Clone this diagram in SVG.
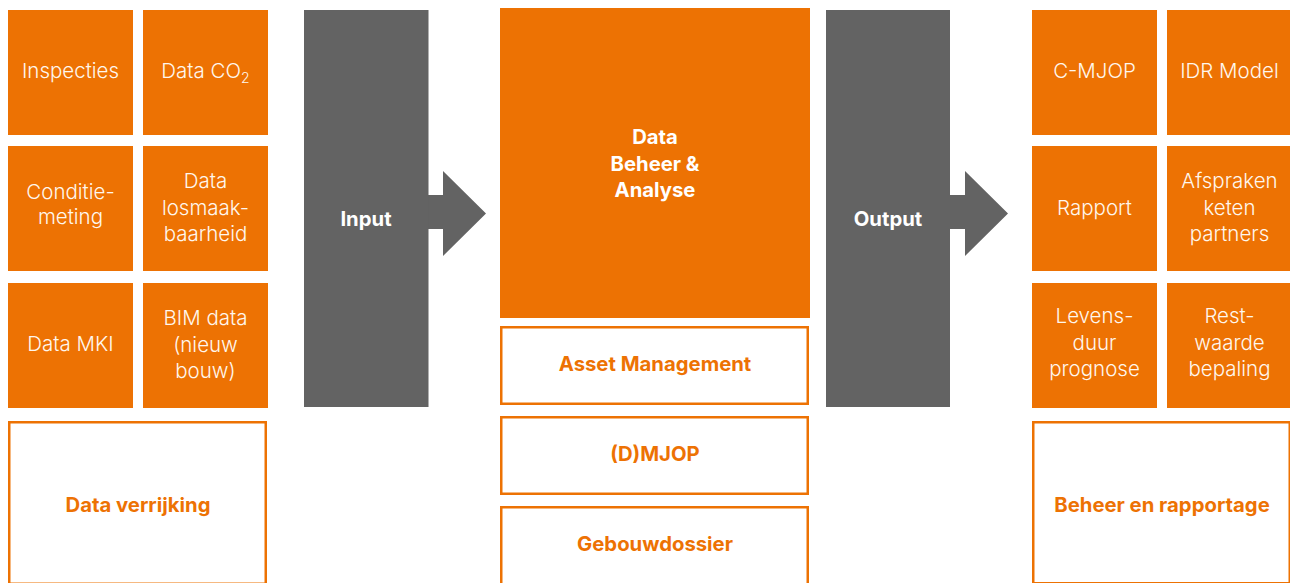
<svg xmlns="http://www.w3.org/2000/svg" width="1290" height="583" viewBox="0 0 1290 583">
<style>
.tile{fill:#ED7203}
.bar{fill:#636363}
.out{fill:#ffffff;stroke:#ED7203;stroke-width:2.5}
.lt{font-family:Inter,Lato,sans-serif;font-weight:300;font-size:20.5px;fill:#FFF7EE;text-anchor:middle}
.bw{font-family:Inter,Lato,sans-serif;font-weight:700;font-size:20.3px;fill:#FFFFFF;text-anchor:middle}
.bo{font-family:Inter,Lato,sans-serif;font-weight:700;font-size:20.3px;fill:#ED7203;text-anchor:middle}
</style>
<rect width="1290" height="583" fill="#ffffff"/>
<g id="connectors">
<path class="bar" d="M428,195 H443 V171 L486,213.5 L443,256 V229 H428 Z"/>
<path class="bar" d="M950,195 H965 V171 L1008,213.5 L965,256 V229 H950 Z"/>
</g>
<g id="inspecties"><rect class="tile" x="8" y="10" width="125" height="125"/><text class="lt" x="70.5" y="78">Inspecties</text></g>
<g id="data-co2"><rect class="tile" x="143" y="10" width="125" height="125"/><text class="lt" x="205.5" y="78">Data CO<tspan font-size="14" dy="5">2</tspan></text></g>
<g id="conditiemeting"><rect class="tile" x="8" y="146" width="125" height="125"/><text class="lt" x="70.5" y="199">Conditie-<tspan x="70.5" dy="25">meting</tspan></text></g>
<g id="data-losmaakbaarheid"><rect class="tile" x="143" y="146" width="125" height="125"/><text class="lt" x="205.5" y="188">Data<tspan x="205.5" dy="26.5">losmaak-</tspan><tspan x="205.5" dy="26.5">baarheid</tspan></text></g>
<g id="data-mki"><rect class="tile" x="8" y="283" width="125" height="125"/><text class="lt" x="70.5" y="351">Data MKI</text></g>
<g id="bim-data"><rect class="tile" x="143" y="283" width="125" height="125"/><text class="lt" x="205.5" y="325">BIM data<tspan x="205.5" dy="26.5">(nieuw</tspan><tspan x="205.5" dy="26.5">bouw)</tspan></text></g>
<g id="data-verrijking"><rect class="out" x="9.25" y="422.25" width="256.5" height="161.5"/><text class="bo" x="138" y="512">Data verrijking</text></g>
<g id="input"><rect class="bar" x="304" y="10" width="124.5" height="397"/><text class="bw" x="366" y="226">Input</text></g>
<g id="data-beheer-analyse"><rect class="tile" x="500" y="8" width="310" height="310"/><text class="bw" x="655" y="144">Data<tspan x="655" dy="26.5">Beheer &amp;</tspan><tspan x="655" dy="26.5">Analyse</tspan></text></g>
<g id="asset-management"><rect class="out" x="501.25" y="327.25" width="306.5" height="76.5"/><text class="bo" x="655" y="371">Asset Management</text></g>
<g id="dmjop"><rect class="out" x="501.25" y="417.25" width="306.5" height="76.5"/><text class="bo" x="655" y="461">(D)MJOP</text></g>
<g id="gebouwdossier"><rect class="out" x="501.25" y="507.25" width="306.5" height="80"/><text class="bo" x="655" y="551">Gebouwdossier</text></g>
<g id="output"><rect class="bar" x="826" y="10" width="124" height="397"/><text class="bw" x="888" y="226">Output</text></g>
<g id="c-mjop"><rect class="tile" x="1032" y="10" width="125" height="125"/><text class="lt" x="1094.5" y="78">C-MJOP</text></g>
<g id="idr-model"><rect class="tile" x="1167" y="10" width="125" height="125"/><text class="lt" x="1229.5" y="78">IDR Model</text></g>
<g id="rapport"><rect class="tile" x="1032" y="146" width="125" height="125"/><text class="lt" x="1094.5" y="215">Rapport</text></g>
<g id="afspraken-ketenpartners"><rect class="tile" x="1167" y="146" width="125" height="125"/><text class="lt" x="1229.5" y="188">Afspraken<tspan x="1229.5" dy="26.5">keten</tspan><tspan x="1229.5" dy="26.5">partners</tspan></text></g>
<g id="levensduur-prognose"><rect class="tile" x="1032" y="283" width="125" height="125"/><text class="lt" x="1094.5" y="323">Levens-<tspan x="1094.5" dy="26.5">duur</tspan><tspan x="1094.5" dy="26.5">prognose</tspan></text></g>
<g id="restwaarde-bepaling"><rect class="tile" x="1167" y="283" width="125" height="125"/><text class="lt" x="1229.5" y="323">Rest-<tspan x="1229.5" dy="26.5">waarde</tspan><tspan x="1229.5" dy="26.5">bepaling</tspan></text></g>
<g id="beheer-rapportage"><rect class="out" x="1033.25" y="422.25" width="256.5" height="161"/><text class="bo" x="1162" y="512">Beheer en rapportage</text></g>
</svg>
